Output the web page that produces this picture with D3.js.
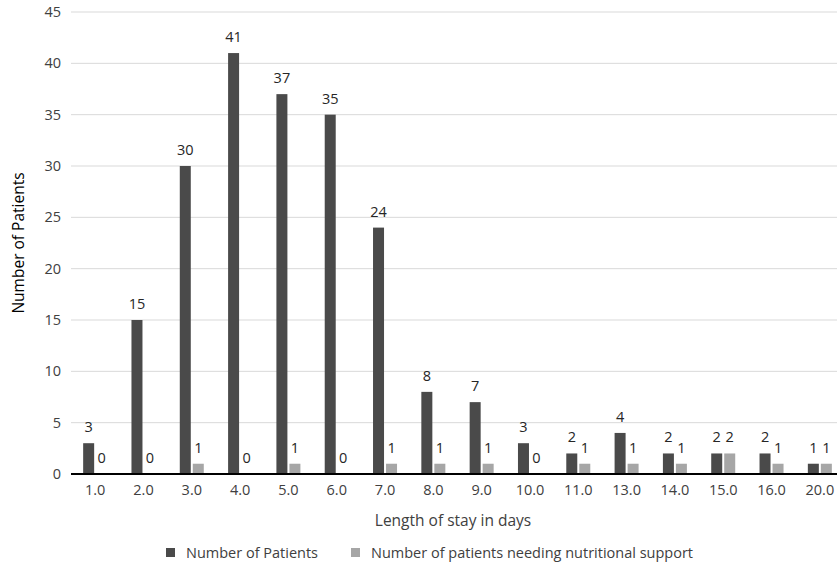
<!DOCTYPE html>
<html><head><meta charset="utf-8">
<script src="https://cdn.jsdelivr.net/npm/d3@7/dist/d3.min.js"></script>
<style>body{margin:0;background:#fff}svg{display:block}text{font-family:"Open Sans",sans-serif}</style>
</head><body><svg id="c" width="837" height="565"></svg>
<script>
const categories = ["1.0","2.0","3.0","4.0","5.0","6.0","7.0","8.0","9.0","10.0","11.0","13.0","14.0","15.0","16.0","20.0"];
const patients = [3,15,30,41,37,35,24,8,7,3,2,4,2,2,2,1];
const nutrition = [0,0,1,0,1,0,1,1,1,0,1,1,1,2,1,1];
const yTicks = [0,5,10,15,20,25,30,35,40,45];
const seriesNames = ["Number of Patients","Number of patients needing nutritional support"];
const colors = ["#4a4a4a","#a6a6a6"];

const svg = d3.select("#c");
const x = d3.scaleBand().domain(categories).range([71, 844]).padding(0);
const y = d3.scaleLinear().domain([0,45]).range([474, 12]);
const bw = 11, gap = 1;

svg.append("g").selectAll("line").data(yTicks.filter(d=>d>0)).join("line")
  .attr("x1",71).attr("x2",837).attr("y1",d=>y(d)).attr("y2",d=>y(d))
  .attr("stroke","#d9d9d9").attr("stroke-width",1);

const yAxis = d3.axisLeft(y).tickValues(yTicks).tickSize(0).tickPadding(10);
const gy = svg.append("g").attr("transform","translate(71,0)").call(yAxis);
gy.select(".domain").remove();
gy.selectAll("text").attr("font-size",14.5).attr("fill","#404040").attr("font-family","Open Sans");

const data = categories.map((c,i)=>({c, p:patients[i], n:nutrition[i]}));
const g = svg.append("g");
g.selectAll(".bp").data(data).join("rect")
  .attr("x",d=>x(d.c)+x.bandwidth()/2-gap-bw).attr("width",bw)
  .attr("y",d=>y(d.p)).attr("height",d=>y(0)-y(d.p)).attr("fill",colors[0]);
g.selectAll(".bn").data(data).join("rect")
  .attr("x",d=>x(d.c)+x.bandwidth()/2+gap).attr("width",bw)
  .attr("y",d=>y(d.n)).attr("height",d=>y(0)-y(d.n)).attr("fill",colors[1]);

g.selectAll(".lp").data(data).join("text")
  .attr("x",d=>x(d.c)+x.bandwidth()/2-gap-bw/2).attr("y",d=>y(d.p)-11)
  .attr("text-anchor","middle").attr("font-size",14.5).attr("fill","#262626").text(d=>d.p);
g.selectAll(".ln").data(data).join("text")
  .attr("x",d=>x(d.c)+x.bandwidth()/2+gap+bw/2).attr("y",d=>y(d.n)-11)
  .attr("text-anchor","middle").attr("font-size",14.5).attr("fill","#262626").text(d=>d.n);

svg.append("line").attr("x1",71).attr("x2",837).attr("y1",y(0)).attr("y2",y(0))
  .attr("stroke","#000").attr("stroke-width",2);

const xAxis = d3.axisBottom(x).tickSize(0).tickPadding(11);
const gx = svg.append("g").attr("transform",`translate(0,${y(0)})`).call(xAxis);
gx.select(".domain").remove();
gx.selectAll("text").attr("font-size",14.5).attr("fill","#404040").attr("font-family","Open Sans");

svg.append("text").attr("x",453).attr("y",526).attr("text-anchor","middle")
  .attr("font-size",15.5).attr("fill","#404040").text("Length of stay in days");
svg.append("text").attr("transform","translate(24,243) rotate(-90)").attr("text-anchor","middle")
  .attr("font-size",15.5).attr("fill","#000").text("Number of Patients");

const legX = [166, 351];
const lg = svg.append("g");
seriesNames.forEach((s,i)=>{
  lg.append("rect").attr("x",legX[i]).attr("y",548).attr("width",9).attr("height",9).attr("fill",colors[i]);
  lg.append("text").attr("x",legX[i]+20).attr("y",558).attr("font-size",14.5).attr("fill","#404040").text(s);
});
</script></body></html>
